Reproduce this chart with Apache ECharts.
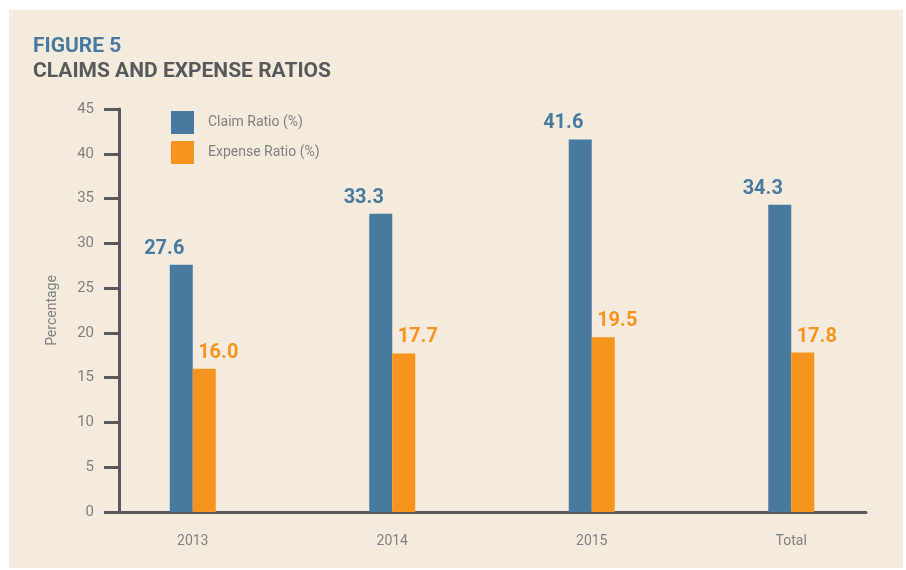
<!DOCTYPE html>
<html>
<head>
<meta charset="utf-8">
<script src="https://cdn.jsdelivr.net/npm/echarts@6/dist/echarts.min.js"></script>
<style>
html,body{margin:0;padding:0;background:#ffffff;}
#chart{width:906px;height:570px;}
</style>
</head>
<body>
<div id="chart"></div>
<script>
const categories = ['2013', '2014', '2015', 'Total'];
const claimRatio = [27.6, 33.3, 41.6, 34.3];
const expenseRatio = [16.0, 17.7, 19.5, 17.8];
const yTicks = [0, 5, 10, 15, 20, 25, 30, 35, 40, 45];

const BLUE = '#487aa0';
const ORANGE = '#f7941d';
const AXIS = '#58595b';
const LABEL = '#808080';
const FONT = 'Roboto, "DejaVu Sans", sans-serif';

const chart = echarts.init(document.getElementById('chart'));
chart.setOption({
  backgroundColor: '#ffffff',
  animation: false,
  graphic: [{
    type: 'rect', z: -10, silent: true,
    shape: {x: 9, y: 10, width: 894, height: 558},
    style: {fill: '#f4ebdd'}
  }],
  title: [
    {text: 'FIGURE 5', left: 28, top: 31,
     textStyle: {color: BLUE, fontSize: 21, fontWeight: 'bold', fontFamily: FONT}},
    {text: 'CLAIMS AND EXPENSE RATIOS', left: 28, top: 56,
     textStyle: {color: AXIS, fontSize: 21, fontWeight: 'bold', fontFamily: FONT}}
  ],
  legend: {
    orient: 'vertical', left: 171, top: 111, padding: 0,
    itemWidth: 23, itemHeight: 23, itemGap: 7,
    icon: 'rect',
    textStyle: {color: LABEL, fontSize: 14, fontFamily: FONT, padding: [0, 0, 0, 9]},
    data: ['Claim Ratio (%)', 'Expense Ratio (%)']
  },
  grid: [
    {left: 93, right: 15, top: 109, bottom: 58},
    {left: 119, right: 40, top: 109, bottom: 58}
  ],
  xAxis: [
    {type: 'category', gridIndex: 0, data: categories,
     axisLine: {show: false}, axisTick: {show: false},
     axisLabel: {color: LABEL, fontSize: 14, fontFamily: FONT, margin: 22}},
    {type: 'value', gridIndex: 1, min: 0, max: 1,
     axisLine: {show: true, lineStyle: {color: AXIS, width: 3}},
     axisTick: {show: false}, axisLabel: {show: false}, splitLine: {show: false}}
  ],
  yAxis: [
    {type: 'value', gridIndex: 0, min: 0, max: 45, interval: 5, show: false},
    {type: 'value', gridIndex: 1, min: 0, max: 45, interval: 5,
     name: 'Percentage', nameLocation: 'middle', nameGap: 60, nameRotate: 90,
     nameTextStyle: {color: LABEL, fontSize: 14, fontFamily: FONT},
     axisLine: {show: true, lineStyle: {color: AXIS, width: 3}},
     axisTick: {show: true, inside: false, length: 15, lineStyle: {color: AXIS, width: 3}},
     axisLabel: {color: LABEL, fontSize: 15, fontFamily: FONT, margin: 25,
       formatter: v => yTicks.includes(v) ? String(v) : ''},
     splitLine: {show: false}}
  ],
  series: [
    {name: 'Claim Ratio (%)', type: 'bar', xAxisIndex: 0, yAxisIndex: 0,
     data: claimRatio, barWidth: 23, barGap: '0%',
     itemStyle: {color: BLUE},
     label: {show: true, position: 'top', distance: 6, offset: [-17, 0],
       color: BLUE, fontSize: 20, fontWeight: 'bold', fontFamily: FONT,
       formatter: p => p.value.toFixed(1)}},
    {name: 'Expense Ratio (%)', type: 'bar', xAxisIndex: 0, yAxisIndex: 0,
     data: expenseRatio, barWidth: 23, barGap: '0%',
     itemStyle: {color: ORANGE},
     label: {show: true, position: 'top', distance: 6, offset: [14, 0],
       color: ORANGE, fontSize: 20, fontWeight: 'bold', fontFamily: FONT,
       formatter: p => p.value.toFixed(1)}}
  ]
});
</script>
</body>
</html>
